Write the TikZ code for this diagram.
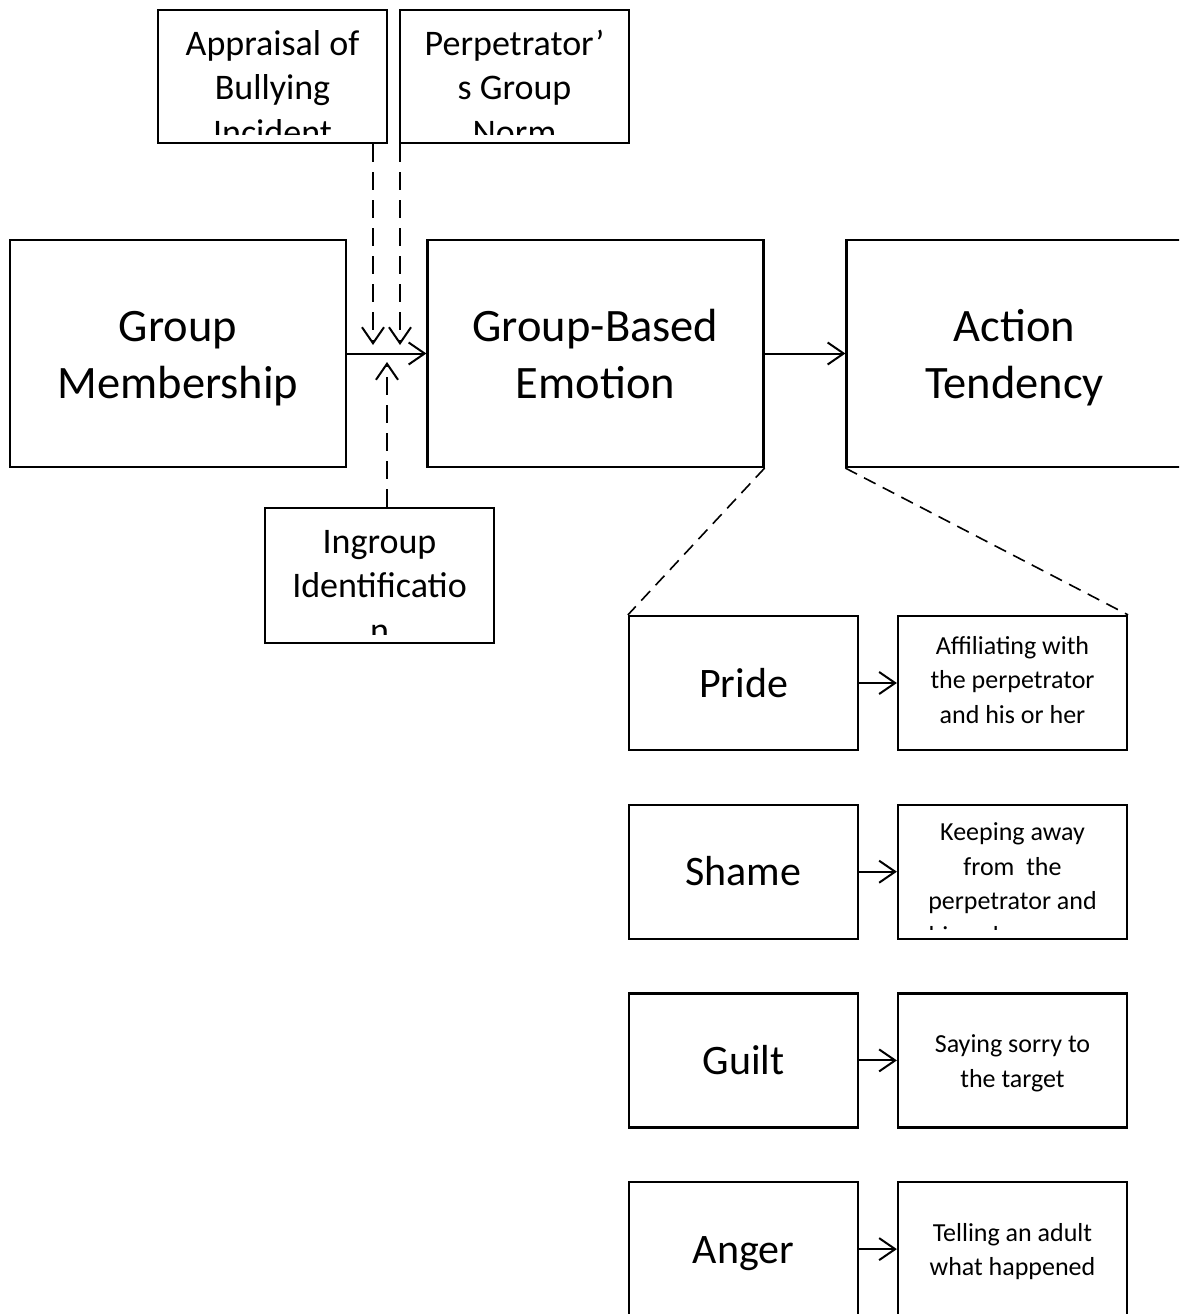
\documentclass[tikz,border=0pt]{standalone}
\usepackage{fontspec}
\setmainfont{Carlito}
\usetikzlibrary{positioning}
\usetikzlibrary{arrows.meta}

% fixed height above the first line and depth below the last one
\newcommand{\tallstrut}[1]{\rule{0pt}{#1}}
\newcommand{\deepstrut}[1]{\rule[-#1]{0pt}{#1}}

% text that runs past the bottom of its box is cut off a little above the border
\newcommand{\cliptext}[5][]{%
  \begin{scope}
    \clip ([yshift=#3]#2.south west) rectangle (#2.north east);
    \node (#2 text) [inner sep=0pt, align=center, #1, below=#4 of #2.north] {\strut#5};
  \end{scope}}

\begin{document}
\begin{tikzpicture}[x=1pt, y=-1pt, node distance=417.5pt,
  every text node part/.style={align=center},
  box/.style={draw, line width=2.2pt, inner sep=0pt},
  mainbox/.style={box, minimum width=336pt, minimum height=227pt, font=\fontsize{46.5}{57}\selectfont},
  sidebox/.style={box, minimum width=229pt, minimum height=134pt},
  emobox/.style={sidebox, font=\fontsize{42}{51}\selectfont},
  actbox/.style={sidebox, font=\fontsize{26}{34.5}\selectfont},
  sidetext/.style={font=\fontsize{36}{44.5}\selectfont},
  acttext/.style={font=\fontsize{26}{34.5}\selectfont},
  flow/.style={line width=2pt, -{Straight Barb[length=16pt, width=22pt]}},
  link/.style={flow, dash pattern=on 18pt off 10pt},
  zoomline/.style={line width=1.6pt, dash pattern=on 13pt off 8pt}]

\useasboundingbox (0,0) rectangle (1179,1314);
\clip (0,0) rectangle (1179,1314);

\node (member) [mainbox] at (178,353.5) {\tallstrut{44pt}Group\\Membership\deepstrut{12pt}};
\node (emotion) [mainbox, right of=member] {\tallstrut{44pt}Group-Based\\Emotion\deepstrut{12pt}};
\node (action) [mainbox, node distance=419pt, right of=emotion] {\tallstrut{44pt}Action\\Tendency\deepstrut{12pt}};

\node (appraisal) [sidebox, minimum height=133pt] at (272.5,76.5) {};
\node (norm) [sidebox, minimum height=133pt] at (514.5,76.5) {};
\node (ingroup) [sidebox, minimum height=135pt] at (379.5,575.5) {};
\cliptext[sidetext]{appraisal}{10pt}{15pt}{Appraisal of\\Bullying\\Incident}
\cliptext[sidetext]{norm}{10pt}{15pt}{Perpetrator’\\s Group\\Norm}
\cliptext[sidetext]{ingroup}{10pt}{15pt}{Ingroup\\Identificatio\\n}

\node (pride) [emobox] at (743.5,683) {\tallstrut{40pt}Pride\deepstrut{12pt}};
\node (shame) [emobox, node distance=188.7pt, below of=pride] {\tallstrut{40pt}Shame\deepstrut{12pt}};
\node (guilt) [emobox, node distance=188.7pt, below of=shame] {\tallstrut{40pt}Guilt\deepstrut{12pt}};
\node (anger) [emobox, node distance=188.7pt, below of=guilt] {\tallstrut{40pt}Anger\deepstrut{12pt}};

\node (affiliate) [actbox, node distance=269pt, right of=pride] {};
\node (avoid) [actbox, node distance=269pt, right of=shame] {};
\node (apology) [actbox, node distance=269pt, right of=guilt] {\tallstrut{25pt}Saying sorry to\\the target\deepstrut{6pt}};
\node (report) [actbox, node distance=269pt, right of=anger] {\tallstrut{25pt}Telling an adult\\what happened\deepstrut{6pt}};
\cliptext[acttext]{affiliate}{7pt}{15pt}{Affiliating with\\the perpetrator\\and his or her}
\cliptext[acttext]{avoid}{10pt}{13pt}{Keeping away\\from\ \ the\\perpetrator and\\his or her group}

\draw [flow] (member) -- (emotion);
\draw [flow] (emotion) -- (action);
\foreach \feel/\act in {pride/affiliate, shame/avoid, guilt/apology, anger/report}
  \draw [flow] (\feel) -- (\act);

\coordinate (appraisal tip) at (373,345);
\coordinate (norm tip) at (400,345);
\coordinate (ingroup tip) at (387,362);
\draw [link] (appraisal.south -| appraisal tip) -- (appraisal tip);
\draw [link] (norm.south -| norm tip) -- (norm tip);
\draw [link] (ingroup.north -| ingroup tip) -- (ingroup tip);

\draw [zoomline] (emotion.south east) -- (pride.north west);
\draw [zoomline] (action.south west) -- (affiliate.north east);

\end{tikzpicture}
\end{document}
